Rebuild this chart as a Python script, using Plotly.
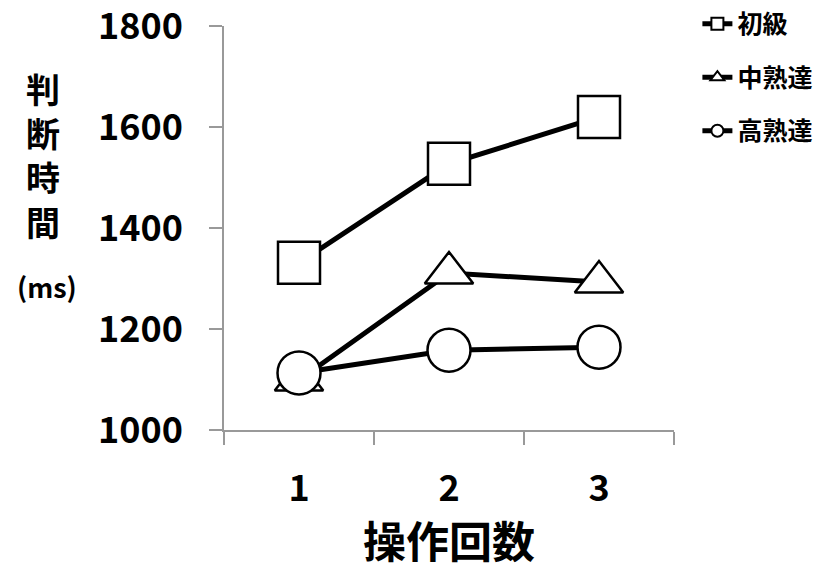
import plotly.graph_objects as go

# Judgement time (ms) by number of operations, per skill level
operations = ["1", "2", "3"]
series_names = ["初級", "中熟達", "高熟達"]
beginner = [1331, 1527, 1620]
intermediate = [1099, 1311, 1293]
advanced = [1113, 1158, 1164]
y_ticks = [1000, 1200, 1400, 1600, 1800]

FONT = "Noto Sans CJK JP"

fig = go.Figure()
styles = [("square", 42), ("triangle-up", 42), ("circle", 43)]
for name, values, (symbol, size) in zip(series_names, [beginner, intermediate, advanced], styles):
    fig.add_trace(go.Scatter(
        x=operations, y=values, name=name, legendgroup=name,
        mode="lines+markers",
        line=dict(color="black", width=5),
        marker=dict(symbol=symbol, size=size, color="white",
                    line=dict(color="black", width=2.5)),
    ))

fig.update_layout(
    width=827, height=569,
    margin=dict(l=224, r=153, t=26, b=139, autoexpand=False),
    plot_bgcolor="white", paper_bgcolor="white",
    font=dict(family=FONT, color="black"),
    showlegend=True,
    legend=dict(x=1.052, y=1.062, xanchor="left", yanchor="top",
                font=dict(size=25, family=FONT, weight="bold"),
                itemsizing="constant", tracegroupgap=18,
                bgcolor="rgba(0,0,0,0)"),
    xaxis=dict(type="category", range=[-0.5, 2.5], tickson="boundaries",
               ticks="outside",
               ticklen=13, tickcolor="#999999", tickwidth=1.5,
               showline=True, linecolor="#999999", linewidth=1.5,
               showgrid=False, zeroline=False,
               tickfont=dict(size=36, family=FONT, weight="bold"),
               ticklabelstandoff=26, ticklabeloverflow="allow"),
    yaxis=dict(range=[1000, 1800], tickvals=y_ticks, ticks="outside",
               ticklen=13, tickcolor="#999999", tickwidth=1.5,
               showline=True, linecolor="#999999", linewidth=1.5,
               showgrid=False, zeroline=False,
               tickfont=dict(size=36, family=FONT, weight="bold"),
               ticklabelstandoff=19, ticklabeloverflow="allow"),
)

fig.add_annotation(text="判<br>断<br>時<br>間", xref="paper", yref="paper",
                   x=-0.402, y=0.91, xanchor="center", yanchor="top",
                   showarrow=False, align="center",
                   font=dict(size=34, family=FONT, weight="bold"))
fig.add_annotation(text="(ms)", xref="paper", yref="paper",
                   x=-0.393, y=0.354, xanchor="center", yanchor="middle",
                   showarrow=False,
                   font=dict(size=27, family=FONT, weight="bold"))
fig.add_annotation(text="操作回数", xref="paper", yref="paper",
                   x=0.5, y=-0.27, xanchor="center", yanchor="middle",
                   showarrow=False,
                   font=dict(size=43, family=FONT, weight="bold"))

fig.write_html("out.html")
